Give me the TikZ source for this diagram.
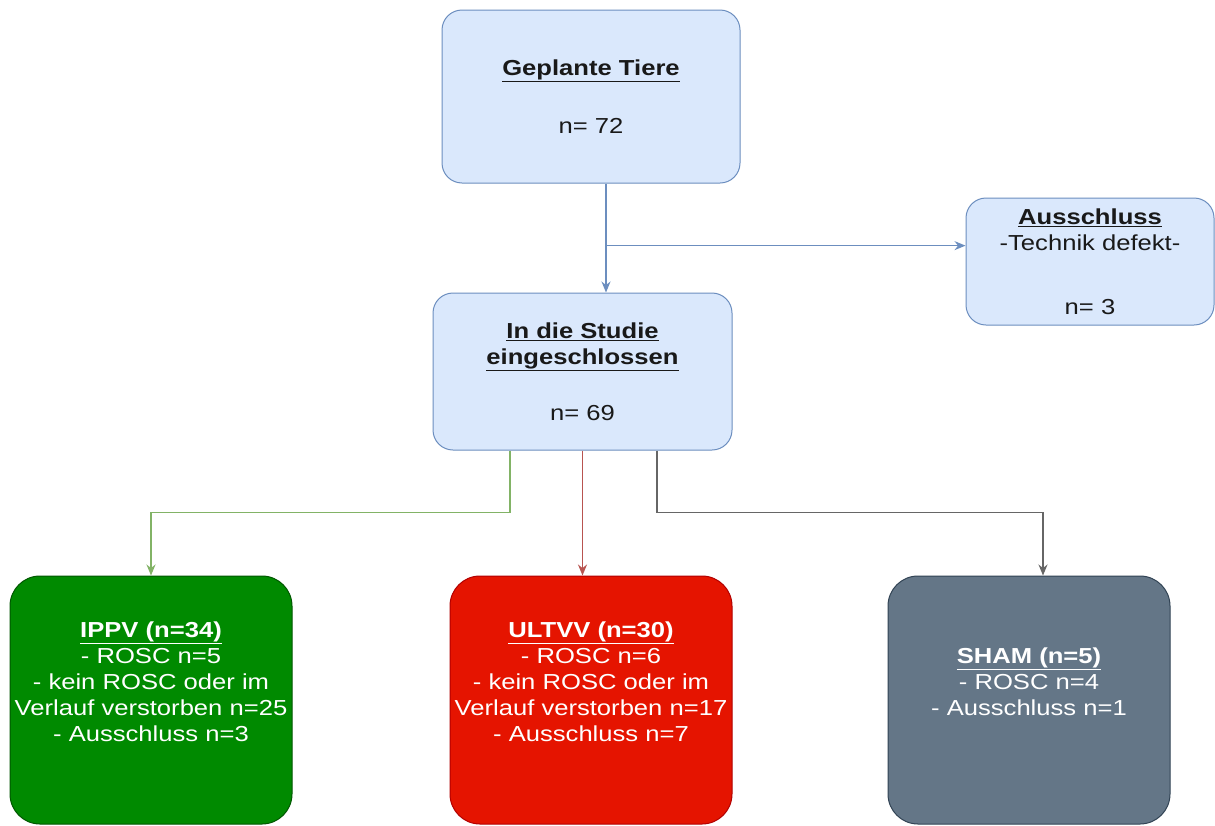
\documentclass[tikz,border=0pt]{standalone}
\usepackage{fontspec}
\setmainfont{Liberation Sans}[FakeStretch=1.18]
\usetikzlibrary{arrows.meta,calc,positioning}
\definecolor{BlueFill}{HTML}{DAE8FC}
\definecolor{BlueLine}{HTML}{6C8EBF}
\definecolor{GreenFill}{HTML}{008A00}
\definecolor{GreenLine}{HTML}{005700}
\definecolor{GreenLink}{HTML}{82B366}
\definecolor{RedFill}{HTML}{E51400}
\definecolor{RedLine}{HTML}{B20000}
\definecolor{RedLink}{HTML}{B85450}
\definecolor{SlateFill}{HTML}{647687}
\definecolor{SlateLine}{HTML}{314354}
\definecolor{SlateLink}{HTML}{666666}
\newcommand{\flowfont}{\fontsize{21.7}{26}\selectfont}
\newcommand{\ulb}[1]{\underline{\textbf{#1}}}
\tikzset{
  infobox/.style={
    rounded corners=20pt, draw=BlueLine, line width=1pt, fill=BlueFill,
    align=center, font=\flowfont, text=black!90, inner sep=0pt
  },
  groupbox/.style={
    rounded corners=30pt, line width=1pt,
    minimum width=282pt, minimum height=248pt, inner sep=0pt
  },
  grouptext/.style={align=center, font=\flowfont, text=white, inner sep=0pt},
  link/.style={-{Stealth[length=11pt,width=9pt]}, line width=1.2pt, draw=BlueLine},
  greenlink/.style={link, draw=GreenLink},
  redlink/.style={link, draw=RedLink},
  slatelink/.style={link, draw=SlateLink}
}
\begin{document}
\begin{tikzpicture}[x=1pt,y=-1pt]
  \useasboundingbox[fill=white] (0,0) rectangle (1215,825);
  % upper part
  \node[infobox,minimum width=298pt,minimum height=173pt] (plan) at (591,96.5)
    {\ulb{Geplante Tiere}\\[32pt]n= 72};
  \node[infobox,minimum width=299pt,minimum height=157pt] (study) at (582.5,371.5)
    {\ulb{In die Studie}\\\ulb{eingeschlossen}\\[30pt]n= 69};
  \node[infobox,minimum width=248pt,minimum height=127pt] (excl) at (1090,261.5)
    {\ulb{Ausschluss}\\-Technik defekt-\\[38pt]n= 3};
  % groups
  \node[groupbox,fill=GreenFill,draw=GreenLine] (ippv) at (151,700) {};
  \node[groupbox,fill=RedFill,draw=RedLine] (ultvv) at (591,700) {};
  \node[groupbox,fill=SlateFill,draw=SlateLine] (sham) at (1029,700) {};
  \node[grouptext] (ippvtext) at ([yshift=18pt]ippv.center)
    {\ulb{IPPV (n=34)}\\- ROSC n=5\\- kein ROSC oder im\\Verlauf verstorben n=25\\- Ausschluss n=3};
  \node[grouptext] (ultvvtext) at ([yshift=18pt]ultvv.center)
    {\ulb{ULTVV (n=30)}\\- ROSC n=6\\- kein ROSC oder im\\Verlauf verstorben n=17\\- Ausschluss n=7};
  \node[grouptext] (shamtext) at ([yshift=18pt]sham.center)
    {\ulb{SHAM (n=5)}\\- ROSC n=4\\- Ausschluss n=1};
  % connectors
  \coordinate (split) at ($([xshift=15pt]plan.south)!0.57!([xshift=15pt]plan.south |- study.north)$);
  \draw[link] ([xshift=15pt]plan.south) -- ([xshift=15pt]plan.south |- study.north);
  \draw[link] (split) -- (split -| excl.west);
  \draw[greenlink] ([xshift=-72.5pt]study.south) -- ++(0,62) -| (ippv.north);
  \draw[redlink] (study.south) -- (study.south |- ultvv.north);
  \draw[slatelink] ([xshift=74.5pt]study.south) -- ++(0,62) -| ([xshift=14pt]sham.north);
\end{tikzpicture}
\end{document}
